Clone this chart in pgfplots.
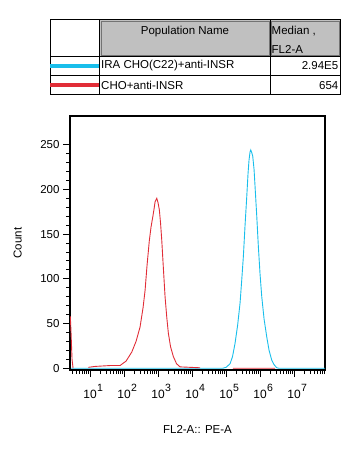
\documentclass[border=0pt]{standalone}
\usepackage{fontspec}
\setmainfont{Liberation Sans}
\usepackage{pgfplots}
\pgfplotsset{compat=1.18}
\definecolor{cy}{RGB}{25,190,235}
\definecolor{rd}{RGB}{225,45,55}
\definecolor{hdr}{RGB}{192,192,192}
\newcommand{\tl}[1]{10\rlap{\hspace{0.5pt}\raisebox{6.5pt}{\fontsize{10.5}{11}\selectfont #1}}}
\begin{document}
\begin{tikzpicture}[x=1pt,y=1pt]
\useasboundingbox (0pt,0pt) rectangle (355pt,-450pt);
% ---- legend table ----
\begin{scope}[font=\fontsize{11.5}{13}\selectfont]
\fill[hdr] (100,-20) rectangle (270,-56.5);
\fill[hdr] (270,-20) rectangle (340,-56.5);
\draw[black!55,line width=0.8pt] (101,-21) rectangle (269,-55.5);
\draw[black!55,line width=0.8pt] (271,-21) rectangle (339,-55.5);
\draw[black,line width=0.8pt] (50,-19.5) rectangle (340,-94.5);
\draw[black,line width=0.8pt] (99.5,-19.5) -- (99.5,-94.5);
\draw[black,line width=0.8pt] (270,-19.5) -- (270,-94.5);
\draw[black,line width=0.8pt] (50,-56.5) -- (340,-56.5);
\draw[black,line width=0.8pt] (50,-75.5) -- (340,-75.5);
\draw[cy,line width=4pt] (50,-66) -- (99,-66);
\draw[rd,line width=4pt] (50,-85) -- (99,-85);
\node at (185,-31.5) {Population Name};
\node[anchor=west,inner sep=0pt] at (271.5,-31.5) {Median ,};
\node[anchor=west,inner sep=0pt] at (271.5,-49.5) {FL2-A};
\node[anchor=west,inner sep=0pt] at (101,-66) {IRA CHO(C22)+anti-INSR};
\node[anchor=east,inner sep=0pt] at (338.5,-66) {2.94E5};
\node[anchor=west,inner sep=0pt] at (101,-85.5) {CHO+anti-INSR};
\node[anchor=east,inner sep=0pt] at (338.5,-85.5) {654};
\end{scope}
% ---- histogram ----
\begin{axis}[
  at={(70pt,-370pt)}, anchor=south west,
  scale only axis, width=255pt, height=254pt,
  xmin=0.41, xmax=7.91, ymin=-2, ymax=282,
  axis line style={black, line width=2pt},
  tick align=outside, xtick pos=bottom, ytick pos=left,
  major tick length=7pt, minor tick length=4pt,
  every tick/.style={black, line width=0.8pt},
  xtick={1,2,3,4,5,6,7},
  xticklabels={\tl{1},\tl{2},\tl{3},\tl{4},\tl{5},\tl{6},\tl{7}},
  minor xtick={0.477,0.602,0.699,0.778,0.845,0.903,0.954,
    1.301,1.477,1.602,1.699,1.778,1.845,1.903,1.954,
    2.301,2.477,2.602,2.699,2.778,2.845,2.903,2.954,
    3.301,3.477,3.602,3.699,3.778,3.845,3.903,3.954,
    4.301,4.477,4.602,4.699,4.778,4.845,4.903,4.954,
    5.301,5.477,5.602,5.699,5.778,5.845,5.903,5.954,
    6.301,6.477,6.602,6.699,6.778,6.845,6.903,6.954,
    7.301,7.477,7.602,7.699,7.778,7.845,7.903},
  ytick={0,50,100,150,200,250},
  minor y tick num=4,
  tick label style={font=\fontsize{11.5}{13}\selectfont},
  xticklabel style={yshift=-4pt, font=\fontsize{12}{13}\selectfont},
  /pgf/number format/assume math mode=true,
  ylabel={Count}, xlabel={FL2-A:: PE-A},
  label style={font=\fontsize{11.5}{13}\selectfont},
  ylabel style={at={(axis description cs:-0.205,0.5)}, anchor=center},
  xlabel style={at={(axis description cs:0.5,-0.236)}, anchor=center},
  unbounded coords=jump,
  clip=true,
]
\addplot[cy, line width=0.9pt] coordinates {
 (0.44,0) (4.91,0) (5.0,1) (5.118,5) (5.19,13) (5.265,28) (5.34,48) (5.412,73)
 (5.46,98) (5.509,125) (5.559,160) (5.609,192) (5.647,218) (5.676,233)
 (5.706,242) (5.726,244) (5.756,241) (5.785,237) (5.824,222) (5.853,203)
 (5.903,170) (5.95,136) (6.0,105) (6.05,80) (6.118,55) (6.197,35) (6.265,20)
 (6.344,9) (6.412,4) (6.49,0.5) (6.55,0) (7.91,0)
};
\addplot[rd, line width=0.9pt] coordinates {
 (0.42,58) (0.44,40) (0.47,10) (0.50,0) (0.6,nan)
 (0.95,1) (1.147,2) (1.588,3) (1.882,3) (2.06,8) (2.226,18) (2.353,30)
 (2.47,46) (2.56,68) (2.618,87) (2.676,115) (2.744,143) (2.794,158)
 (2.844,169) (2.882,178) (2.912,186) (2.962,190) (3.0,185) (3.038,177)
 (3.074,162) (3.109,143) (3.156,112) (3.206,80) (3.256,57) (3.303,39)
 (3.368,24) (3.45,13) (3.544,5) (3.647,1.5) (3.94,1) (4.235,0.5) (4.3,nan)
 (5.2,0) (6.44,0)
};
\end{axis}
\end{tikzpicture}
\end{document}
